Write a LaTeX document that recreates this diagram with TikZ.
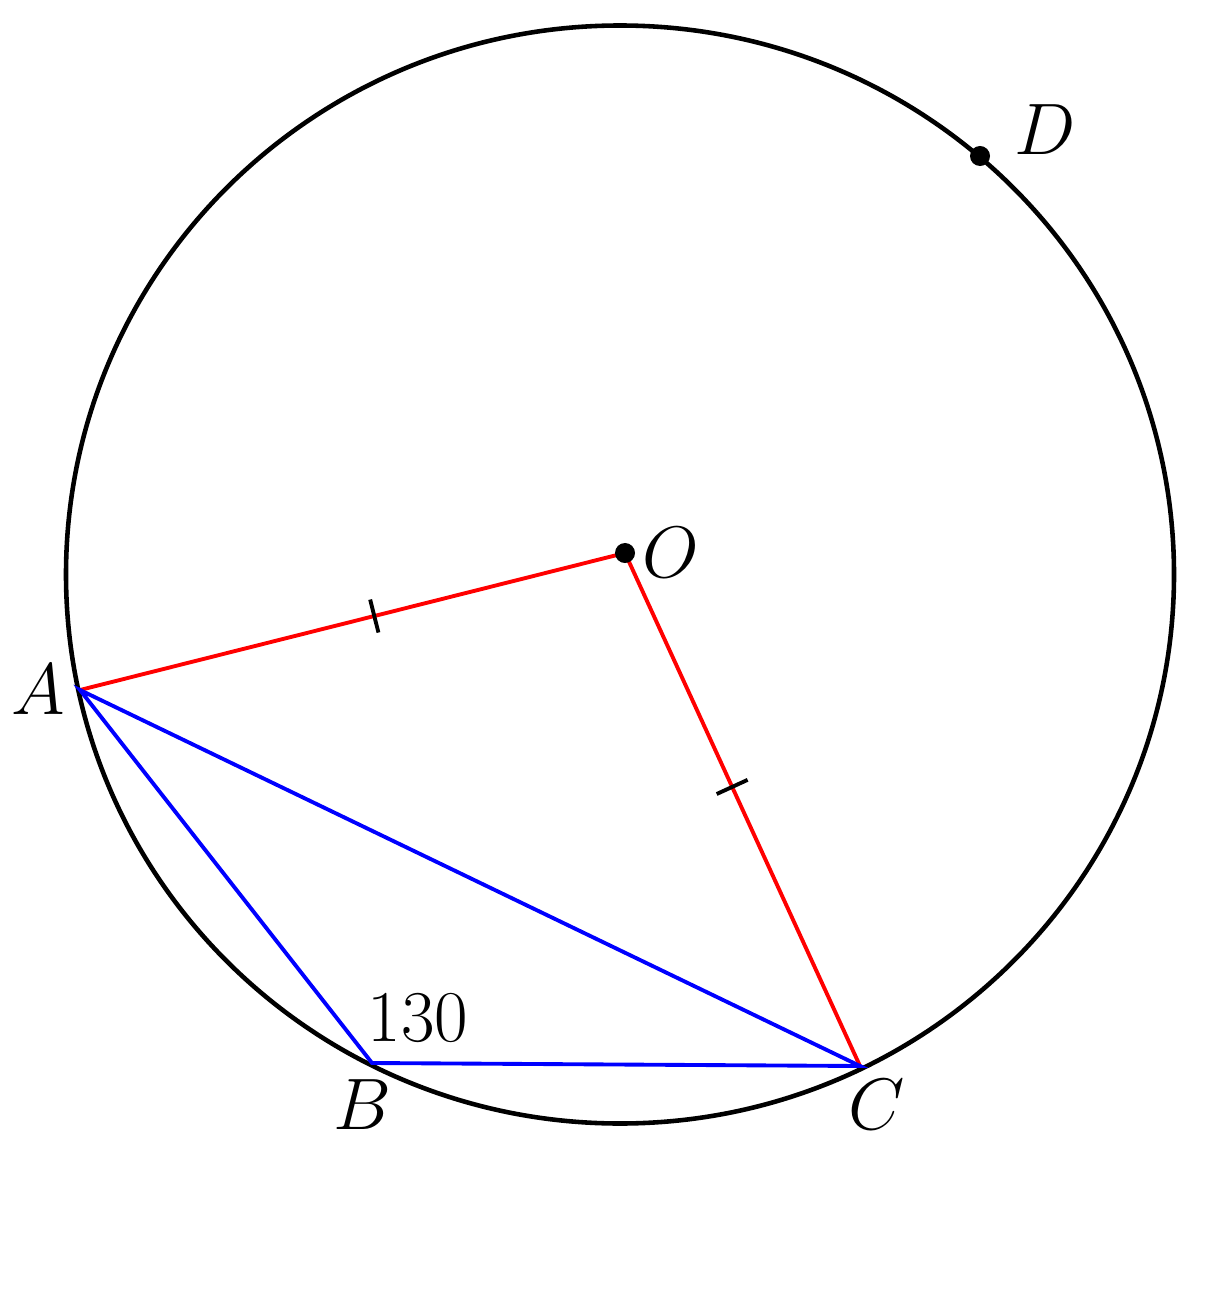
\documentclass[tikz,border=0pt]{standalone}
\usepackage{amsmath}
\usepackage{tikz}
\usetikzlibrary{positioning,calc}
\tikzstyle{rad} = [draw, red, line width=1.1pt]
\tikzstyle{chord} = [draw, blue, line width=1.1pt]
\tikzstyle{pt} = [circle, fill=black, inner sep=0pt, minimum size=0.2cm]
\tikzstyle{lbl} = [font=\fontsize{20}{24}\selectfont, inner sep=0pt]
\tikzstyle{tick} = [draw, line width=1.1pt]

\begin{document}
\begin{tikzpicture}[x=0.01cm, y=-0.01cm]
            \useasboundingbox (0,0) rectangle (1218,1291);
            \draw[line width=1.3pt] (620,574.5) ellipse (554 and 549);
            \coordinate (A) at (80,690);
            \coordinate (B) at (372,1063);
            \coordinate (C) at (860,1066);
            \coordinate (O) at (625,553);
            \coordinate (D) at (980,156);
            \path[rad] (O) -- (A) coordinate[pos=0.46] (m1);
            \path[rad] (O) -- (C) coordinate[pos=0.456] (m2);
            \path[chord] (A) -- (B) -- (C) -- cycle;
            \path[tick] ($(m1)!0.17cm!90:(O)$) -- ($(m1)!0.17cm!-90:(O)$);
            \path[tick] ($(m2)!0.17cm!90:(O)$) -- ($(m2)!0.17cm!-90:(O)$);
            \node[pt] (o) at (O) {};
            \node[pt] (d) at (D) {};
            \node[lbl] (la) at (38,690) {$A$};
            \node[lbl] (lb) at (362,1105) {$B$};
            \node[lbl] (lc) at (877,1105) {$C$};
            \node[lbl] (lo) at (671,553) {$O$};
            \node[lbl] (ld) at (1045,130) {$D$};
            \node[lbl] (ang) at (418,1018) {$130$};
        \end{tikzpicture}
\end{document}
